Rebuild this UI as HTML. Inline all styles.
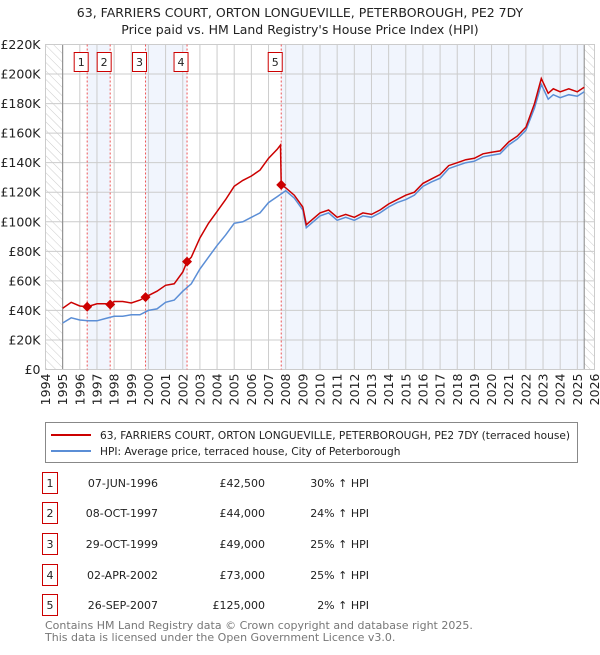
<!DOCTYPE html>
<html><head><meta charset="utf-8">
<style>
body{margin:0;background:#fff;width:600px;height:650px;overflow:hidden;font-family:"Liberation Sans","DejaVu Sans",sans-serif;}
svg text{font-family:"DejaVu Sans","Liberation Sans",sans-serif;}
</style></head>
<body>
<svg id="c" width="600" height="650" xmlns="http://www.w3.org/2000/svg">
<defs>
<pattern id="hatch" width="6" height="6" patternUnits="userSpaceOnUse" patternTransform="rotate(-45)">
<line x1="0" y1="0" x2="0" y2="6" stroke="#ccc" stroke-width="1"/>
</pattern>
</defs>
<text x="300" y="17" font-size="12.5" text-anchor="middle" fill="#222">63, FARRIERS COURT, ORTON LONGUEVILLE, PETERBOROUGH, PE2 7DY</text>
<text x="300" y="34" font-size="12.5" text-anchor="middle" fill="#222">Price paid vs. HM Land Registry's House Price Index (HPI)</text>
<g id="plot"></g>
<g>
<rect x="45.5" y="422.5" width="532" height="40" fill="#fff" stroke="#888"/>
<line x1="51" y1="435" x2="91" y2="435" stroke="#cc0000" stroke-width="2"/>
<text x="100" y="439" font-size="10.6" fill="#222">63, FARRIERS COURT, ORTON LONGUEVILLE, PETERBOROUGH, PE2 7DY (terraced house)</text>
<line x1="51" y1="451" x2="91" y2="451" stroke="#5b8ed6" stroke-width="2"/>
<text x="100" y="455" font-size="10.6" fill="#222">HPI: Average price, terraced house, City of Peterborough</text>
</g>
<g id="table" font-size="11" fill="#222"></g>
<text x="45" y="629" font-size="11" fill="#777">Contains HM Land Registry data © Crown copyright and database right 2025.</text>
<text x="45" y="641" font-size="11" fill="#777">This data is licensed under the Open Government Licence v3.0.</text>
</svg>
<script>
const hpiYears=[1995,1995.5,1996,1996.5,1997,1997.5,1998,1998.5,1999,1999.5,2000,2000.5,2001,2001.5,2002,2002.5,2003,2003.5,2004,2004.5,2005,2005.5,2006,2006.5,2007,2007.5,2008,2008.5,2009,2009.2,2009.5,2010,2010.5,2011,2011.5,2012,2012.5,2013,2013.5,2014,2014.5,2015,2015.5,2016,2016.5,2017,2017.5,2018,2018.5,2019,2019.5,2020,2020.5,2021,2021.5,2022,2022.5,2022.9,2023.3,2023.6,2024,2024.5,2025,2025.4];
const hpiValues=[31.5,35,33.5,33,33,34.5,36,36,37,37,40,41,45.5,47,53,58,68,76,84,91,99,100,103,106,113,117,121,116,108,96,99,104,106,101,103,101,104,103,106,110,113,115,118,124,127,129.5,136,138,140,141,144,145,146,152,156,162,177,193,183,186,184,186,185,188];
const priceYears=[1995,1995.5,1996,1996.43,1997,1997.5,1997.77,1998,1998.5,1999,1999.5,1999.83,2000,2000.5,2001,2001.5,2002,2002.25,2002.5,2003,2003.5,2004,2004.5,2005,2005.5,2006,2006.5,2007,2007.5,2007.7,2007.74,2008,2008.5,2009,2009.2,2009.5,2010,2010.5,2011,2011.5,2012,2012.5,2013,2013.5,2014,2014.5,2015,2015.5,2016,2016.5,2017,2017.5,2018,2018.5,2019,2019.5,2020,2020.5,2021,2021.5,2022,2022.5,2022.9,2023.3,2023.6,2024,2024.5,2025,2025.4];
const priceValues=[41.5,45.5,43,42.5,44.5,44.5,44,46,46,45,47,49,50,53,57,58,66,73,76,89,99,107,115,124,128,131,135,143,149,152,125,123,118,110,98,101,106,108,103,105,103,106,105,108,112,115,118,120,126,129,132,138,140,142,143,146,147,148,154,158,164,180,197,187,190,188,190,188,191];
const saleLabels=["1","2","3","4","5"];
const saleYears=[1996.43,1997.77,1999.83,2002.25,2007.74];
const salePrices=[42.5,44,49,73,125];
const saleDates=["07-JUN-1996","08-OCT-1997","29-OCT-1999","02-APR-2002","26-SEP-2007"];
const salePriceText=["£42,500","£44,000","£49,000","£73,000","£125,000"];
const salePct=["30% ↑ HPI","24% ↑ HPI","25% ↑ HPI","25% ↑ HPI","2% ↑ HPI"];
const yTicks=[0,20,40,60,80,100,120,140,160,180,200,220];
const NS="http://www.w3.org/2000/svg";
const X0=45.5,X1=594.5,Y0=369.5,Y1=44.5,T0=1994,T1=2026,V1=220;
const xs=t=>X0+(t-T0)/(T1-T0)*(X1-X0);
const ys=v=>Y0-v/V1*(Y0-Y1);
const plot=document.getElementById('plot');
function mk(tag,attrs,parent){const e=document.createElementNS(NS,tag);for(const k in attrs)e.setAttribute(k,attrs[k]);(parent||plot).appendChild(e);return e;}
let e;
e=mk('rect',{x:X0,y:Y1,width:X1-X0,height:Y0-Y1,fill:'#fff'});


const bands=[[0,1],[2,3],[4,null]];
bands.forEach((b,i)=>{const a=xs(saleYears[b[0]]);const z=b[1]===null?xs(2025.4):xs(saleYears[b[1]]);
e=mk('rect',{x:a,y:Y1,width:z-a,height:Y0-Y1,fill:'#eef3fc',opacity:0.8});

});
e=mk('rect',{x:X0,y:Y1,width:xs(1995)-X0,height:Y0-Y1,fill:'url(#hatch)'});


e=mk('rect',{x:xs(2025.4),y:Y1,width:X1-xs(2025.4),height:Y0-Y1,fill:'url(#hatch)'});


for(let t=T0;t<=T1;t++){e=mk('line',{x1:xs(t),x2:xs(t),y1:Y1,y2:Y0,stroke:'#ccc','stroke-width':1});


e=mk('text',{x:0,y:0,'font-size':12.5,fill:'#222','text-anchor':'end',transform:`translate(${xs(t)+4.5},${Y0+4}) rotate(-90)`});
e.textContent=String(t);

}
yTicks.forEach(v=>{e=mk('line',{x1:X0,x2:X1,y1:ys(v),y2:ys(v),stroke:'#ccc','stroke-width':1});


e=mk('text',{x:X0-5,y:ys(v)+4.5,'font-size':12.5,fill:'#222','text-anchor':'end'});
e.textContent=v===0?'£0':'£'+v+'K';

});
e=mk('line',{x1:xs(1995),x2:xs(1995),y1:Y1,y2:Y0,stroke:'#888'});


e=mk('line',{x1:xs(2025.4),x2:xs(2025.4),y1:Y1,y2:Y0,stroke:'#888'});


e=mk('rect',{x:X0,y:Y1,width:X1-X0,height:Y0-Y1,fill:'none',stroke:'#ccc'});


saleYears.forEach((t,i)=>{e=mk('line',{x1:xs(t),x2:xs(t),y1:Y1,y2:Y0,stroke:'#e55','stroke-width':1,'stroke-dasharray':'2,2'});


e=mk('rect',{x:xs(t)-13,y:52.5,width:14,height:19,fill:'#fff',stroke:'#cc0000'});


e=mk('text',{x:xs(t)-6,y:66,'font-size':11,fill:'#222','text-anchor':'middle'});
e.textContent=saleLabels[i];

});
const pts=(ts,vs)=>ts.map((t,i)=>xs(t).toFixed(1)+','+ys(vs[i]).toFixed(1)).join(' ');
e=mk('polyline',{points:pts(hpiYears,hpiValues),fill:'none',stroke:'#5b8ed6','stroke-width':1.5});


e=mk('polyline',{points:pts(priceYears,priceValues),fill:'none',stroke:'#cc0000','stroke-width':1.5});


saleYears.forEach((t,i)=>{const cx=xs(t),cy=ys(salePrices[i]);
e=mk('polygon',{points:`${cx},${cy-5} ${cx+5},${cy} ${cx},${cy+5} ${cx-5},${cy}`,fill:'#cc0000'});

});
const tb=document.getElementById('table');
const rowY=[483,513,544,575,605];
saleLabels.forEach((l,i)=>{const y=rowY[i];
e=mk('rect',{x:42.5,y:y-10.5,width:15,height:21,fill:'#fff',stroke:'#cc0000'},tb);


e=mk('text',{x:50,y:y+4,'text-anchor':'middle'},tb);e.textContent=l;


e=mk('text',{x:158,y:y+4,'text-anchor':'end'},tb);e.textContent=saleDates[i];


e=mk('text',{x:265,y:y+4,'text-anchor':'end'},tb);e.textContent=salePriceText[i];


e=mk('text',{x:369,y:y+4,'text-anchor':'end'},tb);e.textContent=salePct[i];

});
</script>
</body></html>
